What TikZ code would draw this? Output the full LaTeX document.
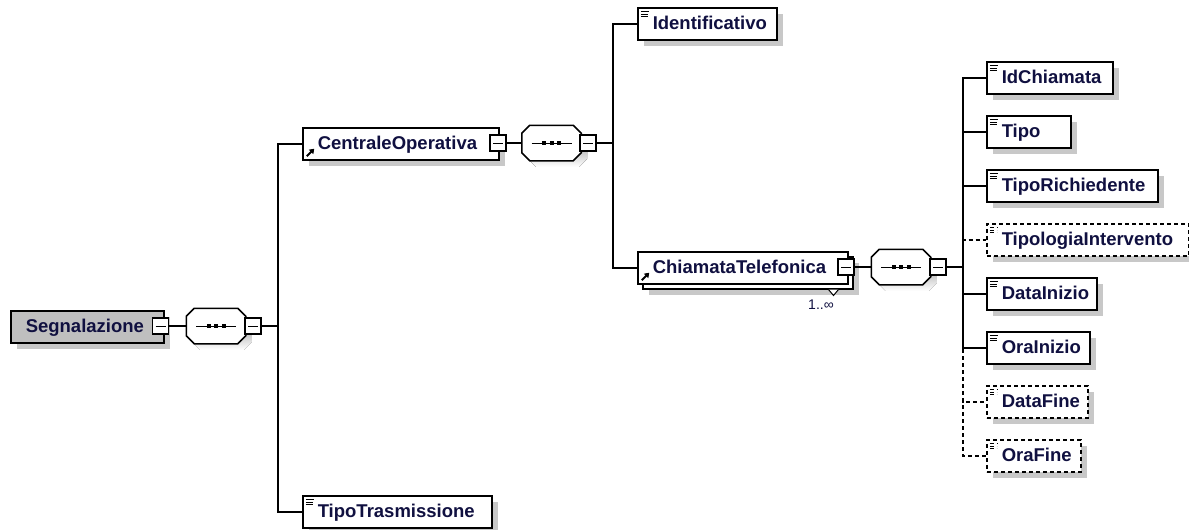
\documentclass[tikz,border=0pt]{standalone}
\usepackage{fontspec}
\setmainfont{Liberation Sans}
\usepackage{tikz}
\usetikzlibrary{shadows,arrows.meta}
\definecolor{namec}{RGB}{16,16,64}
\definecolor{shade}{RGB}{200,200,200}
\tikzset{
    octagon/.style={insert path={
        ([xshift=8pt]#1.north west) -- ([xshift=-8pt]#1.north east)
        -- ([yshift=-8pt]#1.north east) -- ([yshift=8pt]#1.south east)
        -- ([xshift=-8pt]#1.south east) -- ([xshift=8pt]#1.south west)
        -- ([yshift=8pt]#1.south west) -- ([yshift=-8pt]#1.north west) -- cycle}}
}
\newcommand{\seqshape}[1]{%
    \fill[shade, transform canvas={shift={(6pt,-6pt)}}, octagon=#1];
    \draw[fill=white, octagon=#1];
    \draw[line width=1pt] ([xshift=-20pt]#1.center) -- ([xshift=20pt]#1.center);
    \foreach \dx in {-7.5,0,7.5}
        \fill[black] ([xshift=\dx pt]#1.center) ++(-2,-2) rectangle ++(4,4);}

\begin{document}
\begin{tikzpicture}[x=1pt, y=-1pt, line width=1.5pt,
    elem/.style={draw, fill=white, anchor=north west, inner xsep=10pt, inner ysep=4pt,
        text height=18pt, text depth=6pt, align=left, text=namec,
        font=\fontsize{18.5}{22}\selectfont\bfseries,
        execute at begin node={\hyphenpenalty=10000\hspace*{5pt}},
        drop shadow={shadow xshift=6pt, shadow yshift=-6pt, fill=shade, opacity=1}},
    opt/.style={dash pattern=on 4pt off 3pt},
    simple/.style={path picture={\draw[line width=1pt, black]
        ([shift={(3pt,-3.5pt)}]path picture bounding box.north west) -- ++(8.5,0)
        ++(-8.5,2.8) -- ++(7,0) ++(-7,2.8) -- ++(7,0);}},
    refer/.style={path picture={\draw[line width=1.8pt, black, -{Triangle[length=4.5pt,width=6pt]}]
        ([shift={(4pt,3.5pt)}]path picture bounding box.south west) -- ++(7.5,-7.5);}},
    seq/.style={minimum width=58, minimum height=34, inner sep=0pt},
    minus/.style={draw, fill=white, minimum width=16, minimum height=16, inner sep=0pt,
        path picture={\draw[line width=1pt] ([xshift=-5pt]path picture bounding box.center)
            -- ([xshift=5pt]path picture bounding box.center);}},
    conn/.style={line width=1.5pt}]
    \useasboundingbox (0,0) rectangle (1189,530);

    \node[elem, fill=black!25, text width=133] (segnalazione) at (10,310) {Segnalazione};
    \node[minus] (segMinus) at (160.5,326) {};
    \node[seq] (seq1) at (216,326) {};
    \seqshape{seq1}
    \node[minus] (seq1Minus) at (253,326) {};

    \node[elem, refer, text width=176] (centrale) at (302,127) {CentraleOperativa};
    \node[minus] (centraleMinus) at (498,143) {};
    \node[seq] (seq2) at (551.5,143) {};
    \seqshape{seq2}
    \node[minus] (seq2Minus) at (588,143) {};
    \node[elem, simple, text width=169] (tipoTrasmissione) at (302,495) {TipoTrasmissione};

    \node[elem, simple, text width=119] (identificativo) at (637,7) {Identificativo};
    \node[elem, refer, text width=190,
        drop shadow={shadow xshift=11pt, shadow yshift=-11pt, fill=shade, opacity=1},
        copy shadow={shadow xshift=5pt, shadow yshift=-5pt, draw, fill=white}]
        (chiamata) at (637,251) {ChiamataTelefonica};
    \draw[fill=white, line width=1pt] ([xshift=-20pt,yshift=-5pt]chiamata.south east) -- ++(5,6) -- ++(5,-6);
    \node[minus] (chiamataMinus) at (846,267) {};
    \node[text=namec, font=\fontsize{14}{16}\selectfont] (occorrenze) at (821,305) {1..∞};
    \node[seq] (seq3) at (901,267) {};
    \seqshape{seq3}
    \node[minus] (seq3Minus) at (938,267) {};

    \node[elem, simple, text width=106] (idChiamata) at (986,61) {IdChiamata};
    \node[elem, simple, text width=64] (tipo) at (986,115) {Tipo};
    \node[elem, simple, text width=151] (tipoRichiedente) at (986,169) {TipoRichiedente};
    \node[elem, simple, opt, text width=182] (tipologia) at (986,223) {TipologiaIntervento};
    \node[elem, simple, text width=90] (dataInizio) at (986,277) {DataInizio};
    \node[elem, simple, text width=83] (oraInizio) at (986,331) {OraInizio};
    \node[elem, simple, opt, text width=81] (dataFine) at (986,385) {DataFine};
    \node[elem, simple, opt, text width=74] (oraFine) at (986,439) {OraFine};

    \draw[conn] (segMinus.east) -- (seq1.west);
    \draw[conn] (seq1Minus.east) -- ++(16,0) |- (centrale.west);
    \draw[conn] (seq1Minus.east) -- ++(16,0) |- (tipoTrasmissione.west);
    \draw[conn] (centraleMinus.east) -- (seq2.west);
    \draw[conn] (seq2Minus.east) -- ++(16,0) |- (identificativo.west);
    \draw[conn] (seq2Minus.east) -- ++(16,0) |- (chiamata.west);
    \draw[conn] (chiamataMinus.east) -- (seq3.west);

    \draw[conn, opt] (seq3Minus.east) -- ++(16,0) |- (tipologia.west);
    \draw[conn, opt] (seq3Minus.east) -- ++(16,0) |- (dataFine.west);
    \draw[conn, opt] (seq3Minus.east) -- ++(16,0) |- (oraFine.west);
    \draw[conn] (seq3Minus.east) -- ++(16,0) |- (idChiamata.west);
    \draw[conn] (seq3Minus.east) -- ++(16,0) |- (tipo.west);
    \draw[conn] (seq3Minus.east) -- ++(16,0) |- (tipoRichiedente.west);
    \draw[conn] (seq3Minus.east) -- ++(16,0) |- (dataInizio.west);
    \draw[conn] (seq3Minus.east) -- ++(16,0) |- (oraInizio.west);
\end{tikzpicture}
\end{document}
